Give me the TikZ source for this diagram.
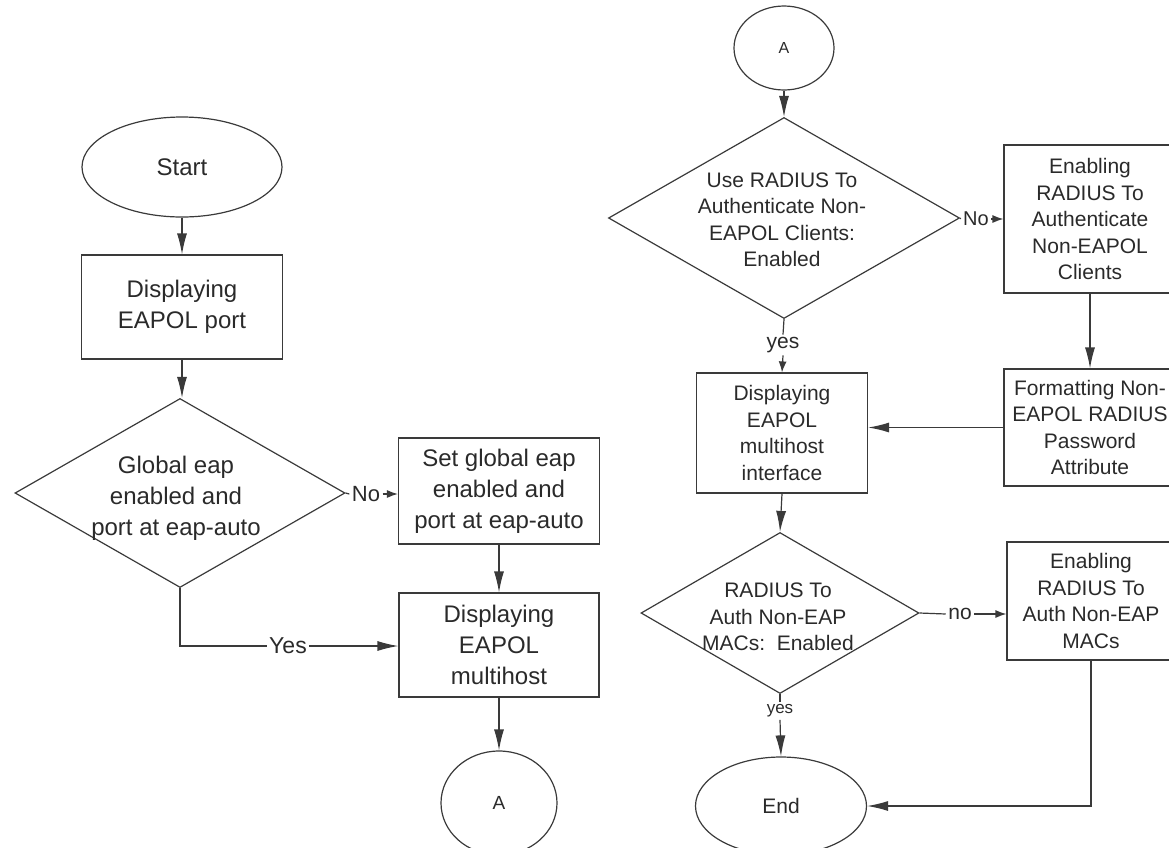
\documentclass[tikz,border=0pt]{standalone}
\usepackage{fontspec}
\setmainfont{Liberation Sans}
\usetikzlibrary{shapes.geometric,arrows.meta}
\definecolor{lncol}{HTML}{3A3A3A}
\definecolor{txcol}{HTML}{2A2A2A}
\begin{document}
\begin{tikzpicture}[x=1pt,y=-1pt,line width=1.2pt,
  every node/.style={text=txcol},
  bigtxt/.style={font=\fontsize{24}{31}\selectfont,align=center},
  smtxt/.style={font=\fontsize{21}{26.5}\selectfont,align=center},
  procbox/.style={draw=lncol,rectangle,inner sep=0pt},
  term/.style={draw=lncol,ellipse,inner sep=0pt},
  decision/.style={draw=lncol,diamond,inner sep=0pt},
  lbl/.style={inner sep=2pt},
  conn/.style={draw=lncol},
  arr/.style={draw=lncol,-{Latex[length=21pt,width=10pt]}},
  sarr/.style={draw=lncol,-{Latex[length=11pt,width=8pt]}}]
\useasboundingbox (0,0) rectangle (1169,847);
\clip (0,0) rectangle (1169,847);
% left column
\node[term,bigtxt,minimum width=200pt,minimum height=100pt] (start) at (182,167) {Start};
\node[procbox,bigtxt,minimum width=201pt,minimum height=104pt] (b1) at (182,307) {Displaying\\EAPOL port};
\node[decision,minimum width=330pt,minimum height=189pt] (d1) at (180,493) {};
\node[bigtxt] (d1t) at (176,498) {Global eap\\enabled and\\port at eap-auto};
\node[lbl,font=\fontsize{22}{26}\selectfont] (no1) at (366,494) {No};
\node[procbox,bigtxt,minimum width=201pt,minimum height=106pt] (b2) at (499,491) {Set global eap\\enabled and\\port at eap-auto};
\node[procbox,bigtxt,minimum width=200pt,minimum height=104pt] (b3) at (499,645) {Displaying\\EAPOL\\multihost};
\node[lbl,font=\fontsize{23}{26}\selectfont] (yes1) at (288,646) {Yes};
\node[term,font=\fontsize{19}{20}\selectfont,minimum width=116pt,minimum height=104pt] (a1) at (499,803) {A};
% right column
\node[term,font=\fontsize{16}{18}\selectfont,minimum width=100pt,minimum height=84pt] (a2) at (784,48) {A};
\node[decision,minimum width=351pt,minimum height=201pt] (d2) at (784,218) {};
\node[smtxt] (d2t) at (782,220) {Use RADIUS To\\Authenticate Non-\\EAPOL Clients:\\Enabled};
\node[lbl,font=\fontsize{20}{24}\selectfont] (no2) at (976,219) {No};
\node[procbox,smtxt,minimum width=172pt,minimum height=148pt] (b4) at (1090,219) {Enabling\\RADIUS To\\Authenticate\\Non-EAPOL\\Clients};
\node[procbox,smtxt,minimum width=172pt,minimum height=117pt] (b5) at (1090,427.5) {Formatting Non-\\EAPOL RADIUS\\Password\\Attribute};
\node[procbox,smtxt,minimum width=171pt,minimum height=120pt] (b6) at (782,433) {Displaying\\EAPOL\\multihost\\interface};
\node[lbl,font=\fontsize{21}{24}\selectfont] (yes2) at (783,345) {yes};
\node[decision,minimum width=278pt,minimum height=161pt] (d3) at (780,613) {};
\node[smtxt] (d3t) at (778,617) {RADIUS To\\Auth Non-EAP\\MACs:\ \ Enabled};
\node[lbl,font=\fontsize{21}{24}\selectfont] (no3) at (960,614) {no};
\node[procbox,smtxt,minimum width=168pt,minimum height=118pt] (b7) at (1091,601) {Enabling\\RADIUS To\\Auth Non-EAP\\MACs};
\node[lbl,font=\fontsize{17}{20}\selectfont] (yes3) at (780,711) {yes};
\node[term,font=\fontsize{21}{24}\selectfont,minimum width=171pt,minimum height=98pt] (endn) at (781,806) {End};
% connectors left
\draw[arr] (start) -- (b1);
\draw[arr] (b1.south) -- (b1.south |- d1.north);
\draw[conn] (d1.east) -- (no1.west);
\draw[sarr] (no1.east) -- (no1.east -| b2.west);
\draw[conn] (d1.south) |- (yes1.west);
\draw[arr] (yes1.east) -- (yes1.east -| b3.west);
\draw[arr] (b2.south) -- (b3.north);
\draw[arr] (b3.south) -- (a1.north);
% connectors right
\draw[arr] (a2.south) -- (d2.north);
\draw[conn] (d2.east) -- (no2.west);
\draw[sarr] (no2.east) -- (no2.east -| b4.west);
\draw[arr] (b4.south) -- (b5.north);
\draw[arr] (b5.west) -- (b5.west -| b6.east);
\draw[conn] (d2.south) -- (yes2.north);
\draw[sarr] (yes2.south) -- (b6.north);
\draw[arr] (b6.south) -- (d3.north);
\draw[conn] (d3.east) -- (no3.west);
\draw[sarr] (no3.east) -- (no3.east -| b7.west);
\draw[conn] (d3.south) -- (yes3.north);
\draw[arr] (yes3.south) -- (endn.north);
\draw[arr] (b7.south) |- (endn.east);
\end{tikzpicture}
\end{document}
